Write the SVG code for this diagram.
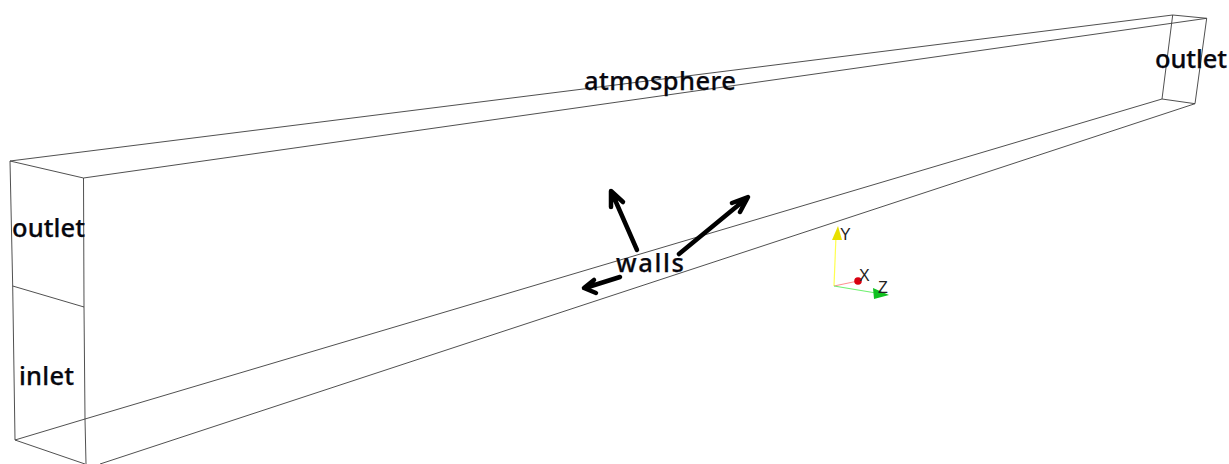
<svg xmlns="http://www.w3.org/2000/svg" width="1229" height="464" viewBox="0 0 1229 464">
<style>
.l{fill:none;stroke:#3c3c3c;stroke-width:.9}
.t{font-family:"Noto Sans",sans-serif;font-size:25.500px;font-weight:500;fill:#08080f;stroke:#08080f;stroke-width:.25}
.a{fill:none;stroke:#000;stroke-width:4.500;stroke-linecap:round;stroke-linejoin:round}
.s{font-family:"Liberation Sans",sans-serif;font-size:16px;fill:#222}
</style>
<rect width="1229" height="464" fill="#fff"/>
<g id="connectors">
<path class="l" d="M10 161L1172.700 15L1206.700 18.300L1195 103.700L1162 99L85 419M10 161L83.500 178L1206.700 18.300M1172.700 15L1162 99M100 464L1195 103.700"/>
<path class="l" d="M10 161L12.700 286L15 440L85 419L84 307L83.500 178M12.700 286L84 307M15 440L85 464M85 419L86 464"/>
<path class="a" d="M637 250L612 193M611 207L611 191L623 202"/>
<path class="a" d="M679 254L747 198M732 203L748 197L740 212"/>
<path class="a" d="M620 277L585 288M594 280L584 288L596 293"/>
</g>
<g id="atmosphere"><text class="t" x="584" y="90" textLength="152" lengthAdjust="spacing">atmosphere</text></g>
<g id="outlet-far"><text class="t" x="1155" y="68" textLength="72" lengthAdjust="spacing">outlet</text></g>
<g id="outlet-near"><text class="t" x="12" y="237" textLength="73" lengthAdjust="spacing">outlet</text></g>
<g id="inlet"><text class="t" x="19" y="385" textLength="55" lengthAdjust="spacing">inlet</text></g>
<g id="walls"><text class="t" x="616" y="272" textLength="68" lengthAdjust="spacing">walls</text></g>
<g id="axes">
<path d="M834 286L836 236" stroke="#ffff50" stroke-width="1.200" fill="none"/>
<path d="M834 286L858 281" stroke="#ff9090" stroke-width="1" fill="none"/>
<path d="M834 286L876 293" stroke="#70f070" stroke-width="1.200" fill="none"/>
<path d="M832 240L838 226L842 240Z" fill="#e8e000"/>
<circle cx="858" cy="281" r="3.800" fill="#d80010"/>
<path d="M873 288L889 295L874 299Z" fill="#10c020"/>
<text class="s" x="840" y="240">Y</text>
<text class="s" x="859" y="281">X</text>
<text class="s" x="878" y="293">Z</text>
</g>
</svg>
